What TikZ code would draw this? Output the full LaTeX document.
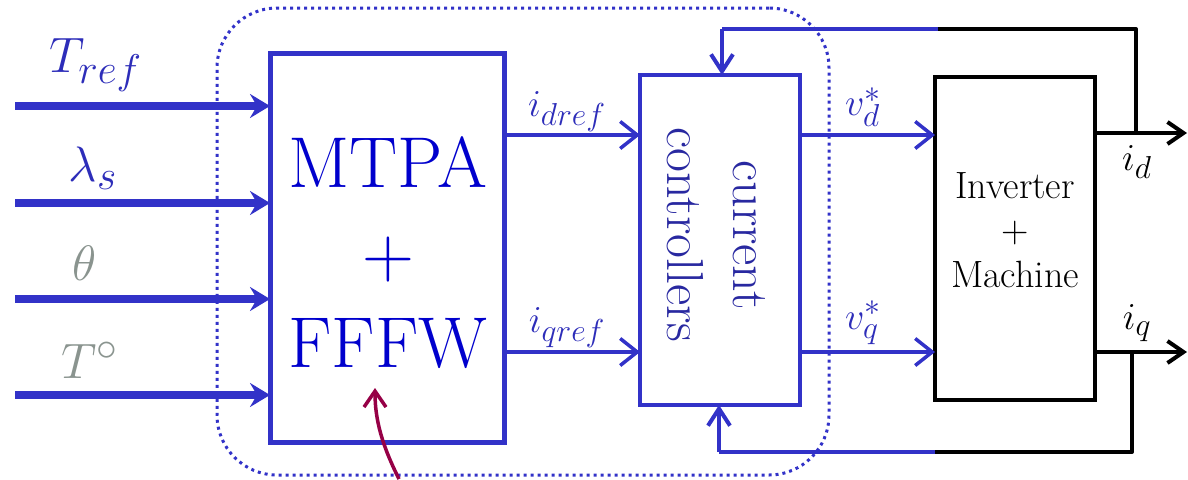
\documentclass[tikz,border=0pt]{standalone}
\usepackage{fontspec}
\usetikzlibrary{arrows.meta}
\definecolor{lineblue}{RGB}{50,50,200}
\definecolor{textblue}{RGB}{0,0,205}
\definecolor{labblue}{RGB}{45,45,185}
\definecolor{ctrlblue}{RGB}{40,40,160}
\definecolor{labgray}{RGB}{138,148,143}
\definecolor{fwred}{RGB}{150,0,70}
% enlarged math labels (math fonts stop at 24.88pt, so scale the box)
\newcommand{\inmath}[1]{\scalebox{2}{\fontsize{24.88}{30}\selectfont$#1$}}
\newcommand{\sigmath}[1]{\scalebox{1.53}{\fontsize{24.88}{30}\selectfont$#1$}}
\begin{document}
\begin{tikzpicture}[x=1pt,y=-1pt,
  box/.style={draw, rectangle, inner sep=0pt, outer sep=0pt},
  group/.style={draw=lineblue, line width=3pt, dash pattern=on 3pt off 4pt,
    rounded corners=60pt, rectangle, inner sep=0pt},
  bigin/.style={lineblue, line width=8pt, -{Stealth[length=20pt,width=24pt,inset=7pt]}},
  sig/.style={lineblue, line width=3.5pt, -{Straight Barb[length=17pt,width=27pt]}},
  fbblue/.style={lineblue, line width=4pt},
  fbblack/.style={black, line width=4pt},
  fbarrow/.style={lineblue, line width=4pt, -{Straight Barb[length=17pt,width=22pt]}},
  outarrow/.style={black, line width=4pt, -{Straight Barb[length=16pt,width=22pt]}},
  inlab/.style={inner sep=0pt},
  siglab/.style={inner sep=0pt, labblue},
  outlab/.style={inner sep=0pt, black}
]
\useasboundingbox (0,0) rectangle (1188,479);

% dotted grouping of the controller blocks
\node[group, minimum width=612pt, minimum height=467pt] (grp) at (523,241.5) {};

% blocks
\node[box, draw=lineblue, line width=5pt, minimum width=234pt, minimum height=389pt] (mtpa) at (387,247.5) {};
\node[textblue, align=center, inner sep=0pt, font=\rmfamily\fontsize{72}{90}\selectfont] (mtpatxt) at (388,253) {MTPA\\+\\FFFW};

\node[box, draw=lineblue, line width=3.5pt, minimum width=160pt, minimum height=330pt] (ctrl) at (720,240) {};
\node[ctrlblue, rotate=-90, align=center, inner sep=0pt, font=\rmfamily\fontsize{52}{66}\selectfont] (ctrltxt) at (716,235) {current\\controllers};

\node[box, draw=black, line width=4pt, minimum width=160pt, minimum height=323pt] (inv) at (1015,238.5) {};
\node[align=center, inner sep=0pt, font=\rmfamily\fontsize{38}{44.5}\selectfont] (invtxt) at (1015,230) {Inverter\\+\\Machine};

% inputs
\coordinate (in1) at (15,106);
\coordinate (in2) at (15,203);
\coordinate (in3) at (15,299);
\coordinate (in4) at (15,395);
\draw[bigin] (in1) -- (in1 -| mtpa.west);
\draw[bigin] (in2) -- (in2 -| mtpa.west);
\draw[bigin] (in3) -- (in3 -| mtpa.west);
\draw[bigin] (in4) -- (in4 -| mtpa.west);
\node[inlab, labblue] (ltref) at (96,65) {\inmath{T_{ref}}};
\node[inlab, labblue] (llam) at (93,168) {\inmath{\lambda_s}};
\node[inlab, labgray] (ltheta) at (85,263) {\inmath{\theta}};
\node[inlab, labgray] (ltemp) at (90,360) {\inmath{T^{\circ}}};

% reference currents and voltages
\coordinate (rowd) at (0,135);
\coordinate (rowq) at (0,352);
\draw[sig] (mtpa.east |- rowd) -- (ctrl.west |- rowd);
\draw[sig] (mtpa.east |- rowq) -- (ctrl.west |- rowq);
\draw[sig] (ctrl.east |- rowd) -- (inv.west |- rowd);
\draw[sig] (ctrl.east |- rowq) -- (inv.west |- rowq);
\node[siglab] (lidref) at (567,112) {\sigmath{i_{dref}}};
\node[siglab] (liqref) at (567,328) {\sigmath{i_{qref}}};
\node[siglab] (lvd) at (863,107) {\sigmath{v_d^*}};
\node[siglab] (lvq) at (863,323) {\sigmath{v_q^*}};

% measured currents
\coordinate (idout) at (1187,133);
\coordinate (iqout) at (1187,352);
\draw[outarrow] (inv.east |- idout) -- (idout);
\draw[outarrow] (inv.east |- iqout) -- (iqout);
\node[outlab] (lid) at (1137,162) {\sigmath{i_d}};
\node[outlab] (liq) at (1137,323) {\sigmath{i_q}};

% feedback paths
\coordinate (tapd) at (1136,133);
\coordinate (tapq) at (1132,352);
\coordinate (topjoin) at (938,29);
\coordinate (botjoin) at (935,452);
\coordinate (topdrop) at (722,29);
\coordinate (botrise) at (719,452);
\draw[fbblack, line join=round] (tapd) |- (topjoin);
\draw[fbblue] (topjoin) -- (topdrop);
\draw[fbarrow] (topdrop) -- (topdrop |- ctrl.north);
\draw[fbblack, line join=round] (tapq) |- (botjoin);
\draw[fbblue] (botjoin) -- (botrise);
\draw[fbarrow] (botrise) -- (botrise |- ctrl.south);

% flux-weakening input
\coordinate (fwstart) at (399,479);
\coordinate (fwend) at (375,388);
\draw[fwred, line width=3.5pt, -{Straight Barb[length=16pt,width=22pt]}]
  (fwstart) .. controls (382,445) and (375,420) .. (fwend);
\end{tikzpicture}
\end{document}
